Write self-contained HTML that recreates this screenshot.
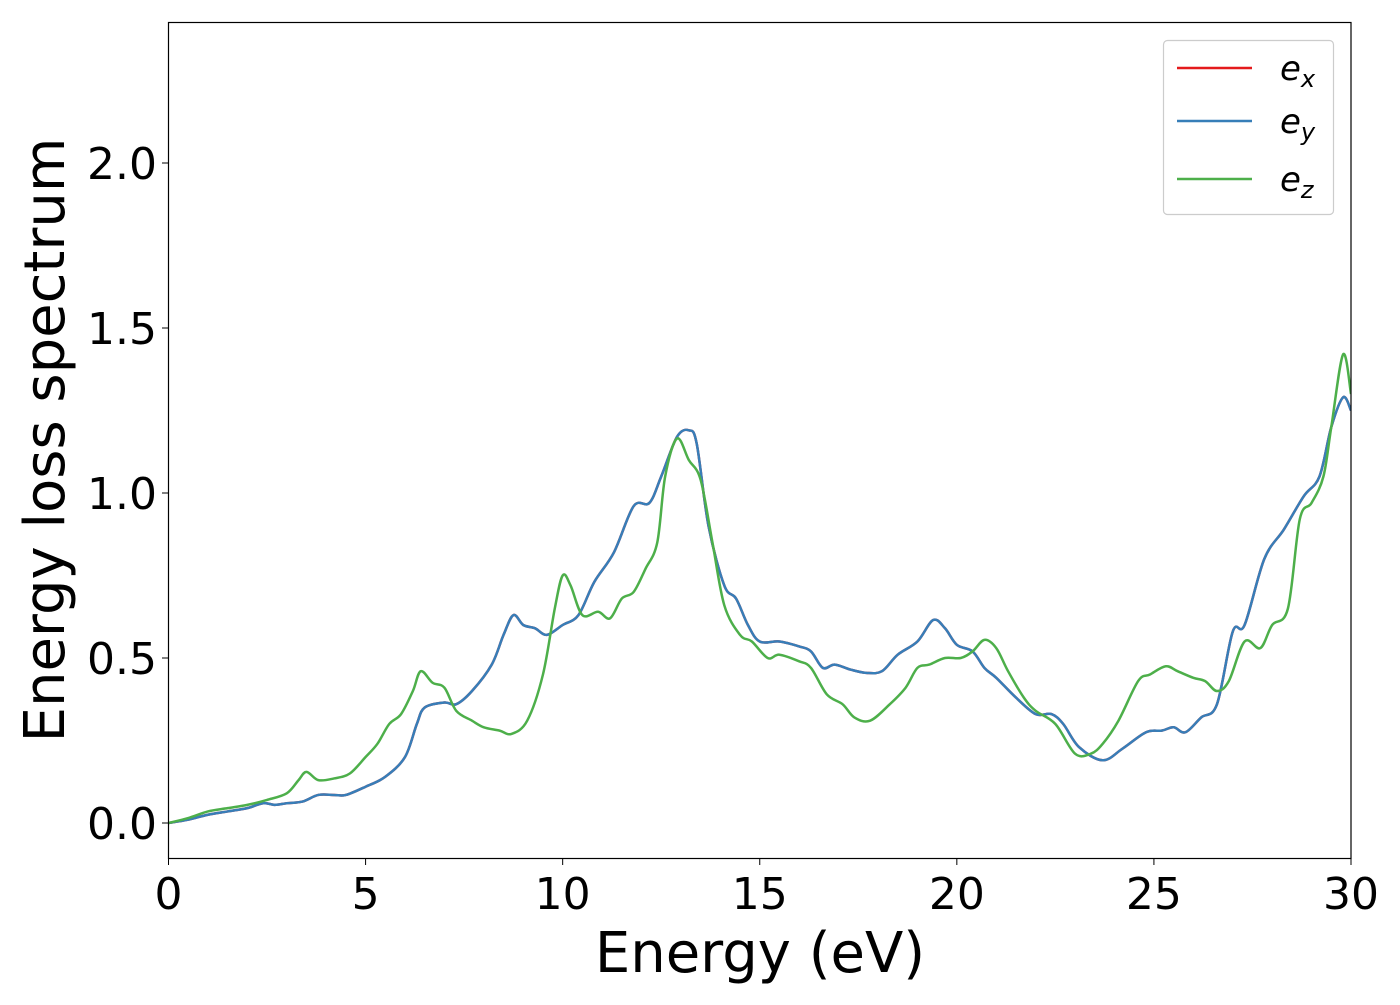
<!DOCTYPE html>
<html><head><meta charset="utf-8"><style>
body{margin:0;background:#fff;}
svg text{font-family:"DejaVu Sans","Liberation Sans",sans-serif;fill:#000;}
</style></head><body>
<svg id="chart" width="1400" height="1000">
<rect x="0" y="0" width="1400" height="1000" fill="#fff"/>
<g id="series"></g>
<rect x="168.5" y="22.5" width="1182.5" height="836" fill="none" stroke="#000" stroke-width="1.2"/>
<g id="ticks"></g>
<text x="760" y="972" font-size="56" text-anchor="middle">Energy (eV)</text>
<text transform="translate(64,440) rotate(-90)" font-size="56" text-anchor="middle">Energy loss spectrum</text>
<g>
<rect x="1163.5" y="40.5" width="170" height="174" rx="4" fill="#fff" stroke="#ccc" stroke-width="1.2"/>
<line x1="1177" y1="68" x2="1252" y2="68" stroke="#e41a1c" stroke-width="2.5"/>
<line x1="1177" y1="121" x2="1252" y2="121" stroke="#377eb8" stroke-width="2.5"/>
<line x1="1177" y1="179" x2="1252" y2="179" stroke="#4daf4a" stroke-width="2.5"/>
<text x="1280" y="80" font-size="34" font-style="italic">e<tspan font-size="24" dy="7">x</tspan></text>
<text x="1280" y="133" font-size="34" font-style="italic">e<tspan font-size="24" dy="7">y</tspan></text>
<text x="1280" y="191" font-size="34" font-style="italic">e<tspan font-size="24" dy="7">z</tspan></text>
</g>
</svg>
<script>
const xTicks=[0,5,10,15,20,25,30];
const yTicks=[0.0,0.5,1.0,1.5,2.0];
const xyE=[0,0.5,1,1.5,2,2.4,2.7,3,3.4,3.8,4.2,4.5,5,5.5,6,6.3,6.5,7,7.3,7.7,8.2,8.5,8.75,9,9.3,9.6,10,10.4,10.8,11.3,11.8,12.2,12.5,12.9,13.2,13.4,13.7,14.1,14.4,14.7,15,15.5,16,16.3,16.6,16.9,17.3,17.7,18.1,18.5,19,19.4,19.7,20,20.4,20.7,21,21.5,22,22.4,22.7,23.1,23.7,24.2,24.8,25.2,25.5,25.8,26.2,26.6,27,27.3,27.8,28.3,28.8,29.2,29.5,29.8,30];
const xyV=[0,0.01,0.025,0.035,0.045,0.06,0.055,0.06,0.065,0.085,0.085,0.085,0.11,0.14,0.2,0.3,0.35,0.365,0.36,0.4,0.48,0.57,0.63,0.6,0.59,0.57,0.6,0.63,0.73,0.82,0.96,0.97,1.05,1.17,1.19,1.15,0.9,0.72,0.68,0.6,0.55,0.55,0.535,0.52,0.47,0.48,0.465,0.455,0.46,0.51,0.55,0.615,0.59,0.54,0.52,0.47,0.44,0.38,0.33,0.33,0.3,0.23,0.19,0.225,0.275,0.28,0.29,0.275,0.32,0.36,0.58,0.6,0.8,0.89,0.99,1.05,1.2,1.29,1.25];
const zE=[0,0.5,1,1.5,2,2.5,3,3.3,3.5,3.8,4.2,4.6,5,5.3,5.6,5.9,6.2,6.4,6.7,7,7.3,7.7,8,8.4,8.7,9.1,9.5,9.8,10,10.2,10.5,10.9,11.2,11.5,11.8,12.1,12.4,12.6,12.9,13.2,13.5,13.8,14.1,14.5,14.8,15.2,15.5,16,16.3,16.7,17.1,17.4,17.8,18.3,18.7,19,19.3,19.7,20.1,20.4,20.7,21,21.3,21.7,22,22.5,23,23.4,23.7,24.1,24.6,24.9,25.3,25.6,26,26.3,26.6,26.9,27.3,27.7,28,28.4,28.7,29,29.3,29.5,29.8,30];
const zV=[0,0.015,0.035,0.045,0.055,0.07,0.09,0.13,0.155,0.13,0.135,0.15,0.2,0.24,0.3,0.33,0.4,0.46,0.425,0.41,0.34,0.31,0.29,0.28,0.27,0.31,0.45,0.65,0.75,0.72,0.63,0.64,0.62,0.68,0.7,0.77,0.85,1.05,1.165,1.1,1.04,0.85,0.66,0.57,0.55,0.5,0.51,0.49,0.47,0.39,0.36,0.32,0.31,0.36,0.41,0.47,0.48,0.5,0.5,0.52,0.555,0.53,0.46,0.38,0.34,0.3,0.21,0.21,0.24,0.31,0.43,0.45,0.475,0.46,0.44,0.43,0.4,0.43,0.55,0.53,0.6,0.65,0.92,0.97,1.05,1.2,1.42,1.3];
const NS='http://www.w3.org/2000/svg';
const X=v=>168.5+v*(1182.5/30);
const Y=v=>823-v*330;
function pathFor(xs,ys){
  const p=xs.map((x,i)=>[X(x),Y(ys[i])]);
  let d='M'+p[0][0]+','+p[0][1];
  for(let i=0;i<p.length-1;i++){
    const p0=p[Math.max(0,i-1)],p1=p[i],p2=p[i+1],p3=p[Math.min(p.length-1,i+2)];
    const c1=[p1[0]+(p2[0]-p0[0])/6,p1[1]+(p2[1]-p0[1])/6];
    const c2=[p2[0]-(p3[0]-p1[0])/6,p2[1]-(p3[1]-p1[1])/6];
    d+=' C'+c1+' '+c2+' '+p2;
  }
  return d;
}
const g=document.getElementById('series');
const cp=document.createElementNS(NS,'clipPath');cp.id='clip';
const cr=document.createElementNS(NS,'rect');
cr.setAttribute('x',168.5);cr.setAttribute('y',22.5);cr.setAttribute('width',1182.5);cr.setAttribute('height',836);
cp.appendChild(cr);g.appendChild(cp);
g.setAttribute('clip-path','url(#clip)');
function addLine(xs,ys,color,name){
  const el=document.createElementNS(NS,'path');
  el.setAttribute('d',pathFor(xs,ys));
  el.setAttribute('fill','none');el.setAttribute('stroke',color);el.setAttribute('stroke-width','2.5');
  
  
  g.appendChild(el);
}
addLine(xyE,xyV,'#e41a1c','line-ex');
addLine(xyE,xyV,'#377eb8','line-ey');
addLine(zE,zV,'#4daf4a','line-ez');
const t=document.getElementById('ticks');
xTicks.forEach(v=>{
  const l=document.createElementNS(NS,'line');
  l.setAttribute('x1',X(v));l.setAttribute('x2',X(v));l.setAttribute('y1',858.5);l.setAttribute('y2',865);l.setAttribute('stroke','#000');
  
  
  t.appendChild(l);
  const tx=document.createElementNS(NS,'text');
  tx.setAttribute('x',X(v));tx.setAttribute('y',909);tx.setAttribute('font-size','44');tx.setAttribute('text-anchor','middle');
  tx.textContent=String(v);
  
  
  t.appendChild(tx);
});
yTicks.forEach(v=>{
  const l=document.createElementNS(NS,'line');
  l.setAttribute('x1',162);l.setAttribute('x2',168.5);l.setAttribute('y1',Y(v));l.setAttribute('y2',Y(v));l.setAttribute('stroke','#000');
  
  
  t.appendChild(l);
  const tx=document.createElementNS(NS,'text');
  tx.setAttribute('x',157);tx.setAttribute('y',Y(v)+16);tx.setAttribute('font-size','44');tx.setAttribute('text-anchor','end');
  tx.textContent=v.toFixed(1);
  
  
  t.appendChild(tx);
});
</script>
</body></html>
